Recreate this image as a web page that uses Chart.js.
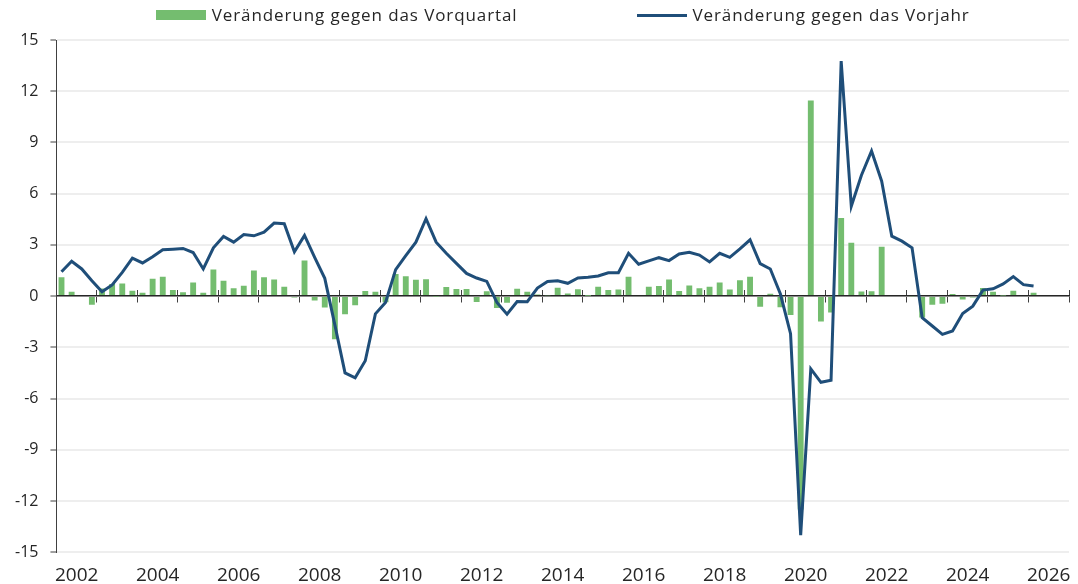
<!DOCTYPE html>
<html lang="de">
<head>
<meta charset="utf-8">
<title>BIP Veränderung</title>
<script src="https://cdn.jsdelivr.net/npm/chart.js@4"></script>
<style>
    html, body { margin: 0; padding: 0; background: #ffffff; }
    #wrap { position: relative; width: 1078px; height: 584px; }
    #legend {
        position: absolute;
        top: 3px;
        display: flex;
        justify-content: center;
        gap: 119px;
        font-family: 'Open Sans', sans-serif;
        font-size: 17px;
        letter-spacing: 0.9px;
        line-height: 24px;
        color: #262626;
    }
    .legend-item { display: flex; align-items: center; white-space: nowrap; }
    .legend-marker { width: 50px; margin-right: 6px; }
</style>
</head>
<body>
<div id="wrap">
    <canvas id="chart" width="1078" height="584"></canvas>
    <div id="legend"></div>
</div>
<script>
// Quartale von 2002 bis 2026
const startYear = 2002;
const endYear = 2026;

// Beschriftete Jahre auf der x-Achse
const tickYears = [2002, 2004, 2006, 2008, 2010, 2012, 2014, 2016, 2018, 2020, 2022, 2024, 2026];

// Veränderung gegen das Vorquartal (in %)
const qoqValues = [
    1.10, 0.26, 0.00, -0.50,
    0.45, 0.71, 0.74, 0.31,
    0.19, 1.02, 1.14, 0.35,
    0.22, 0.80, 0.19, 1.56,
    0.90, 0.46, 0.60, 1.50,
    1.10, 0.97, 0.55, -0.08,
    2.08, -0.26, -0.67, -2.53,
    -1.07, -0.54, 0.30, 0.25,
    -0.36, 1.30, 1.16, 0.96,
    0.98, -0.03, 0.53, 0.41,
    0.41, -0.35, 0.29, -0.69,
    -0.39, 0.43, 0.26, 0.10,
    0.05, 0.49, 0.15, 0.40,
    0.02, 0.55, 0.36, 0.38,
    1.14, -0.05, 0.55, 0.59,
    0.97, 0.30, 0.62, 0.46,
    0.55, 0.79, 0.39, 0.93,
    1.13, -0.63, 0.14, -0.66,
    -1.10, -12.50, 11.46, -1.49,
    -0.96, 4.57, 3.12, 0.27,
    0.29, 2.89, 0.00, 0.00,
    -0.04, -1.25, -0.51, -0.45,
    0.12, -0.20, -0.08, 0.47,
    0.26, 0.04, 0.31, 0.00,
    0.20
];

// Veränderung gegen das Vorjahr (in %)
const yoyValues = [
    1.43, 2.04, 1.59, 0.90,
    0.25, 0.65, 1.39, 2.22,
    1.94, 2.31, 2.71, 2.75,
    2.79, 2.55, 1.59, 2.83,
    3.49, 3.16, 3.61, 3.53,
    3.75, 4.28, 4.24, 2.59,
    3.55, 2.27, 1.04, -1.70,
    -4.50, -4.79, -3.79, -1.04,
    -0.37, 1.55, 2.37, 3.16,
    4.53, 3.16, 2.51, 1.92,
    1.33, 1.06, 0.86, -0.37,
    -1.06, -0.32, -0.33, 0.47,
    0.86, 0.90, 0.75, 1.06,
    1.10, 1.18, 1.37, 1.37,
    2.51, 1.87, 2.06, 2.25,
    2.08, 2.47, 2.57, 2.40,
    2.00, 2.51, 2.27, 2.77,
    3.30, 1.90, 1.59, 0.12,
    -2.20, -14.00, -4.26, -5.05,
    -4.93, 13.76, 5.26, 7.08,
    8.50, 6.73, 3.51, 3.22,
    2.83, -1.26, -1.75, -2.24,
    -2.04, -1.02, -0.59, 0.35,
    0.43, 0.71, 1.14, 0.67,
    0.59
];

document.addEventListener('DOMContentLoaded', function () {
    const canvas = document.getElementById('chart');
    const legendBox = document.getElementById('legend');

    Chart.defaults.font.family = "'Open Sans', sans-serif";
    Chart.defaults.color = '#262626';

    // Quartalsbeschriftungen erzeugen, z.B. "2002 Q1"
    function buildQuarterLabels() {
        const labels = [];
        for (let year = startYear; year <= endYear; year++) {
            for (let q = 1; q <= 4; q++) {
                labels.push(year + ' Q' + q);
            }
        }
        return labels;
    }

    const quarterLabels = buildQuarterLabels();

    // Jahreszahl unter die Mitte des Jahres setzen (2. Quartal + halbe Breite)
    function yearLabel(value, index) {
        const parts = quarterLabels[index].split(' Q');
        const year = Number(parts[0]);
        if (parts[1] === '2' && tickYears.includes(year)) {
            return String(year);
        }
        return '';
    }

    // Striche nur an den Jahresgrenzen
    function yearTickColor(ctx) {
        if (ctx.index === undefined || ctx.index % 4 === 0) {
            return '#404040';
        }
        return 'transparent';
    }

    const chart = new Chart(canvas.getContext('2d'), {
        type: 'bar',
        data: {
            labels: quarterLabels,
            datasets: [
                {
                    type: 'bar',
                    label: 'Veränderung gegen das Vorquartal',
                    data: qoqValues,
                    backgroundColor: '#74bd6f',
                    barPercentage: 0.58,
                    categoryPercentage: 1,
                    xAxisID: 'x',
                    yAxisID: 'y',
                    order: 1,
                },
                {
                    type: 'line',
                    label: 'Veränderung gegen das Vorjahr',
                    data: yoyValues,
                    borderColor: '#1f4e79',
                    backgroundColor: '#1f4e79',
                    borderWidth: 3,
                    pointRadius: 0,
                    tension: 0,
                    xAxisID: 'x',
                    yAxisID: 'y',
                    order: 0,
                },
            ],
        },
        options: {
            responsive: false,
            animation: false,
            layout: {
                padding: { top: 40, left: 3, right: 9, bottom: -15 },
            },
            plugins: {
                legend: { display: false },
                tooltip: { enabled: false },
            },
            scales: {
                x: {
                    type: 'category',
                    position: 'bottom',
                    offset: true,
                    grid: { display: false, drawTicks: false },
                    border: { display: false },
                    ticks: {
                        autoSkip: false,
                        maxRotation: 0,
                        minRotation: 0,
                        labelOffset: 5,
                        padding: 12,
                        color: '#262626',
                        font: { size: 19 },
                        callback: yearLabel,
                    },
                },
                xTicks: {
                    type: 'category',
                    axis: 'x',
                    position: { y: 0 },
                    offset: true,
                    grid: {
                        offset: true,
                        drawOnChartArea: false,
                        tickLength: 6,
                        color: yearTickColor,
                    },
                    border: { color: '#262626', width: 1.5 },
                    ticks: { display: false },
                },
                xTicksUp: {
                    type: 'category',
                    axis: 'x',
                    position: { y: 0 },
                    offset: true,
                    grid: {
                        offset: true,
                        drawOnChartArea: false,
                        tickLength: -6,
                        color: yearTickColor,
                    },
                    border: { display: false },
                    ticks: { display: false },
                },
                y: {
                    min: -15,
                    max: 15,
                    ticks: {
                        stepSize: 3,
                        padding: 12,
                        color: '#262626',
                        font: { size: 16 },
                    },
                    grid: {
                        color: '#eeeeee',
                        lineWidth: 2,
                        tickColor: '#404040',
                        tickWidth: 1,
                        tickLength: 6,
                    },
                    border: { color: '#404040', width: 1 },
                },
            },
        },
    });

    // Eigene Legende über der Zeichenfläche
    function renderLegend(chart) {
        const area = chart.chartArea;
        legendBox.style.left = area.left + 'px';
        legendBox.style.width = (area.right - area.left) + 'px';
        legendBox.innerHTML = '';

        chart.data.datasets.forEach(function (ds) {
            const item = document.createElement('div');
            item.className = 'legend-item';
            const marker = document.createElement('span');
            marker.className = 'legend-marker';
            if (ds.type === 'line') {
                marker.style.height = ds.borderWidth + 'px';
                marker.style.background = ds.borderColor;
            } else {
                marker.style.height = '10px';
                marker.style.background = ds.backgroundColor;
            }
            const text = document.createElement('span');
            text.textContent = ds.label;
            item.appendChild(marker);
            item.appendChild(text);
            legendBox.appendChild(item);
        });
    }

    renderLegend(chart);
});
</script>
</body>
</html>
